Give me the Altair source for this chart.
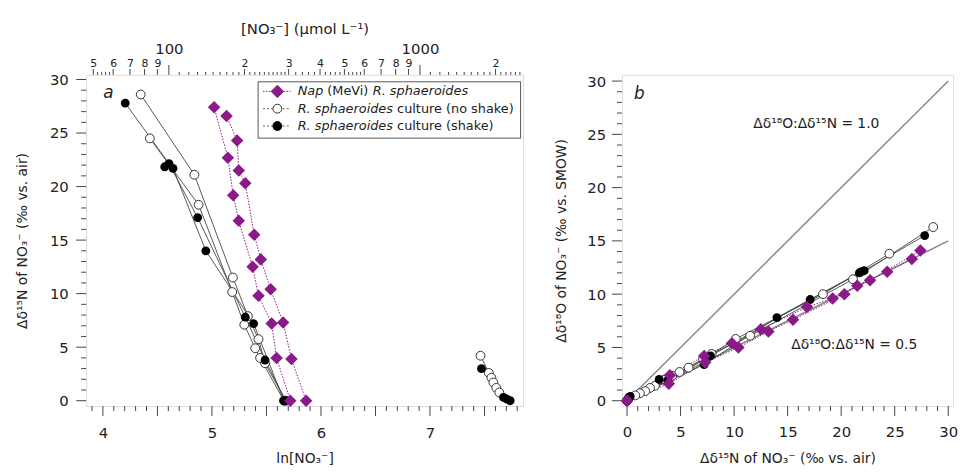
import math
import altair as alt
import pandas as pd

# ---------------- data ----------------
# Nap (MeVi) R. sphaeroides, two runs: ln[NO3-], d15N, d18O
nap1_ln  = [5.020, 5.146, 5.195, 5.246, 5.373, 5.427, 5.548, 5.593, 5.719]
nap1_d15 = [27.4, 22.7, 19.2, 16.8, 12.5, 9.8, 7.2, 4.0, 0.0]
nap1_d18 = [14.1, 11.3, 9.6, 8.8, 6.7, 5.4, 4.2, 2.4, 0.0]
nap2_ln  = [5.134, 5.231, 5.246, 5.306, 5.388, 5.448, 5.538, 5.653, 5.729, 5.864]
nap2_d15 = [26.6, 24.3, 21.5, 20.3, 15.5, 13.2, 10.4, 7.3, 3.9, 0.0]
nap2_d18 = [13.3, 12.1, 10.8, 10.0, 7.6, 6.5, 5.0, 3.6, 1.6, 0.0]
# R. sphaeroides culture (no shake)
ns1_ln  = [4.347, 4.839, 5.192, 5.330, 5.427, 5.487, 5.677]
ns1_d15 = [28.6, 21.1, 11.5, 7.9, 5.75, 3.5, 0.0]
ns1_d18 = [16.3, 11.4, 6.1, 4.4, 3.1, 2.0, 0.0]
ns2_ln  = [4.431, 4.878, 5.186, 5.297, 5.397, 5.442, 5.660]
ns2_d15 = [24.5, 18.3, 10.15, 7.1, 4.9, 4.0, 0.0]
ns2_d18 = [13.8, 10.0, 5.8, 3.9, 2.7, 2.2, 0.0]
ns3_ln  = [7.463, 7.539, 7.563, 7.581, 7.608, 7.635]
ns3_d15 = [4.2, 2.6, 2.15, 1.7, 1.2, 0.77]
ns3_d18 = [2.35, 1.4, 1.2, 0.9, 0.7, 0.5]
# R. sphaeroides culture (shake)
s1_ln  = [4.205, 4.606, 4.869, 5.306, 5.487, 5.677]
s1_d15 = [27.8, 22.15, 17.1, 7.8, 3.8, 0.0]
s1_d18 = [15.5, 12.2, 9.5, 4.2, 1.9, 0.0]
s2_ln  = [4.567, 4.643, 4.944, 5.382, 5.660]
s2_d15 = [21.85, 21.7, 14.0, 7.2, 0.0]
s2_d18 = [12.1, 12.0, 7.8, 3.4, 0.0]
s3_ln  = [7.472, 7.674, 7.705, 7.735]
s3_d15 = [3.0, 0.3, 0.15, 0.0]
s3_d18 = [2.0, 0.4, 0.3, 0.0]

# reference slopes in panel b
ratio_x = [0, 30]
ratio_10_y = [0, 30]
ratio_05_y = [0, 15]

# axis tick positions
a_x_labels = [4, 5, 6, 7]
a_x_major = [4.0, 4.5, 5.0, 5.5, 6.0, 6.5, 7.0, 7.5]
a_x_minor = [3.9, 4.1, 4.2, 4.3, 4.4, 4.6, 4.7, 4.8, 4.9, 5.1, 5.2, 5.3, 5.4,
             5.6, 5.7, 5.8, 5.9, 6.1, 6.2, 6.3, 6.4, 6.6, 6.7, 6.8, 6.9,
             7.1, 7.2, 7.3, 7.4, 7.6, 7.7, 7.8]
iso_major = [0, 5, 10, 15, 20, 25, 30]
iso_minor = [1, 2, 3, 4, 6, 7, 8, 9, 11, 12, 13, 14, 16, 17, 18, 19,
             21, 22, 23, 24, 26, 27, 28, 29]

# top concentration axis (umol/L)
top_labeled = [50, 60, 70, 80, 90, 100, 200, 300, 400, 500, 600, 700, 800, 900, 1000, 2000]
top_labels = ["5", "6", "7", "8", "9", "100", "2", "3", "4", "5", "6", "7", "8", "9", "1000", "2"]
top_major = [100, 1000]
top_mid = [50, 60, 70, 80, 90, 200, 300, 400, 500, 600, 700, 800, 900, 2000]
top_minor = [52, 54, 56, 58,
             110, 120, 130, 140, 150, 160, 170, 180, 190,
             210, 220, 230, 240, 250, 260, 270, 280, 290,
             320, 340, 360, 380, 420, 440, 460, 480, 520, 540, 560, 580,
             1100, 1200, 1300, 1400, 1500, 1600, 1700, 1800, 1900,
             2100, 2200, 2300, 2400, 2500]

legend_rows = [
    [("Nap", "italic", 0), ("(MeVi)", "normal", 30), ("R. sphaeroides", "italic", 76)],
    [("R. sphaeroides", "italic", 0), ("culture (no shake)", "normal", 100.6)],
    [("R. sphaeroides", "italic", 0), ("culture (shake)", "normal", 100.6)],
]

# ---------------- build table ----------------
series = {
    "nap1": ("nap", nap1_ln, nap1_d15, nap1_d18),
    "nap2": ("nap", nap2_ln, nap2_d15, nap2_d18),
    "ns1": ("ns", ns1_ln, ns1_d15, ns1_d18),
    "ns2": ("ns", ns2_ln, ns2_d15, ns2_d18),
    "ns3": ("ns", ns3_ln, ns3_d15, ns3_d18),
    "s1": ("s", s1_ln, s1_d15, s1_d18),
    "s2": ("s", s2_ln, s2_d15, s2_d18),
    "s3": ("s", s3_ln, s3_d15, s3_d18),
}
rows = []
for name, (grp, lns, d15s, d18s) in series.items():
    for i, (a, b, c) in enumerate(zip(lns, d15s, d18s)):
        rows.append(dict(series=name, group=grp, ln=a, d15=b, d18=c, order=i))
df = pd.DataFrame(rows)
ratio_df = pd.DataFrame({"d15": ratio_x * 2, "d18": ratio_10_y + ratio_05_y,
                         "r": ["1.0", "1.0", "0.5", "0.5"]})
one = pd.DataFrame({"k": [0]})

MAG = "#8B1A89"
FONT = "DejaVu Sans"
INK = "#222222"
FRAME = "#555555"
TICKC = "#444444"

A_W, A_H = 442, 335
B_W, B_H = 335, 335


# ---------------- axes ----------------
def lin_axis(values, title, label_pad, title_pad, orient):
    return alt.Axis(
        values=values, orient=orient, domain=False, grid=False, ticks=False, tickSize=0,
        format="d", labelFontSize=15, labelPadding=label_pad, labelOverlap=False,
        labelFlush=False, labelBound=False, labelFont=FONT, labelColor=INK,
        title=title, titleFontSize=14, titlePadding=title_pad, titleFont=FONT,
        titleFontWeight="normal", titleColor=INK,
    )


axis_a_x = lin_axis(a_x_labels, "ln[NO₃⁻]", 19.5, 12, "bottom")
axis_a_y = lin_axis(iso_major, "Δδ¹⁵N of NO₃⁻ (‰ vs. air)", 18, 20, "left")
axis_b_x = lin_axis(iso_major, "Δδ¹⁵N of NO₃⁻ (‰ vs. air)", 19, 12, "bottom")
axis_b_y = lin_axis(iso_major, "Δδ¹⁸O of NO₃⁻ (‰ vs. SMOW)", 16.5, 18, "left")

major_test = " || ".join(f"datum.value == {v}" for v in top_major)
expr = "''"
for v, lab in reversed(list(zip(top_labeled, top_labels))):
    expr = f"datum.value == {v} ? '{lab}' : ({expr})"
axis_top = alt.Axis(
    values=top_labeled, orient="top", domain=False, grid=False, ticks=False, tickSize=0,
    labelExpr=expr, labelOverlap=False, labelFlush=False, labelBound=False,
    labelFont=FONT, labelColor=INK,
    labelFontSize={"condition": {"test": major_test, "value": 15}, "value": 11},
    labelPadding={"condition": {"test": major_test, "value": 19}, "value": 6},
    title="[NO₃⁻] (μmol L⁻¹)", titleFontSize=15, titlePadding=5, titleFont=FONT,
    titleFontWeight="normal", titleColor=INK,
)

A_XS = alt.Scale(domain=[3.846, 7.853], nice=False, zero=False)
A_YS = alt.Scale(domain=[-0.5, 30.43], nice=False, zero=False)
B_XS = alt.Scale(domain=[-0.48, 30.45], nice=False, zero=False)
B_YS = alt.Scale(domain=[-0.5, 30.58], nice=False, zero=False)
TOP_S = alt.Scale(type="log", domain=[math.exp(3.846), math.exp(7.853)], nice=False)

XA = alt.X("ln:Q", scale=A_XS, axis=axis_a_x)
YA = alt.Y("d15:Q", scale=A_YS, axis=axis_a_y)
XB = alt.X("d15:Q", scale=B_XS, axis=axis_b_x)
YB = alt.Y("d18:Q", scale=B_YS, axis=axis_b_y)
XT = alt.X("conc:Q", scale=TOP_S, axis=axis_top)


def xticks(field, values, X, y0, y1):
    return alt.Chart(pd.DataFrame({field: values})).mark_rule(
        color=TICKC, strokeWidth=1, clip=False).encode(x=X, y=alt.value(y0), y2=alt.value(y1))


def yticks(field, values, Y, x0, x1):
    return alt.Chart(pd.DataFrame({field: values})).mark_rule(
        color=TICKC, strokeWidth=1, clip=False).encode(y=Y, x=alt.value(x0), x2=alt.value(x1))


def data_layers(X, Y):
    base = alt.Chart(df)
    nap_l = base.transform_filter(alt.datum.group == "nap").mark_line(
        color=MAG, strokeWidth=1, strokeDash=[1.5, 1.5]).encode(
        x=X, y=Y, detail="series:N", order="order:Q")
    circ_l = base.transform_filter(alt.datum.group != "nap").mark_line(
        color="#444444", strokeWidth=0.9).encode(
        x=X, y=Y, detail="series:N", order="order:Q")
    open_p = base.transform_filter(alt.datum.group == "ns").mark_point(
        shape="circle", filled=True, fill="white", stroke="#333333",
        strokeWidth=1, size=80, opacity=1).encode(x=X, y=Y)
    black_p = base.transform_filter(alt.datum.group == "s").mark_point(
        shape="circle", filled=True, color="black", size=80, opacity=1).encode(x=X, y=Y)
    nap_p = base.transform_filter(alt.datum.group == "nap").mark_point(
        shape="diamond", filled=True, color=MAG, size=160, opacity=1).encode(x=X, y=Y)
    return [nap_l, circ_l, open_p, black_p, nap_p]


def txt(s, x, y, size=14, style="normal", align="center"):
    return alt.Chart(one).mark_text(
        text=s, font=FONT, fontSize=size, fontStyle=style, color=INK,
        align=align, baseline="middle").encode(x=alt.value(x), y=alt.value(y))


# legend (inside panel a, relative to plot frame)
LX0, LX1, LY0, LY1 = 174, 439.5, 7, 64
leg = [alt.Chart(one).mark_rect(fill="white", stroke=FRAME, strokeWidth=1).encode(
    x=alt.value(LX0), x2=alt.value(LX1), y=alt.value(LY0), y2=alt.value(LY1))]
row_y = [16.7, 34.2, 51.7]
sym_styles = [
    dict(line=MAG, dash=[1.5, 1.5], shape="diamond", fill=MAG, stroke=MAG, size=160),
    dict(line="#666666", dash=[2, 2], shape="circle", fill="white", stroke="#333333", size=80),
    dict(line="#666666", dash=[2, 2], shape="circle", fill="black", stroke="black", size=80),
]
for ry, st, segs in zip(row_y, sym_styles, legend_rows):
    leg.append(alt.Chart(one).mark_rule(color=st["line"], strokeWidth=1, strokeDash=st["dash"]).encode(
        x=alt.value(179), x2=alt.value(207), y=alt.value(ry)))
    leg.append(alt.Chart(one).mark_point(shape=st["shape"], filled=True, fill=st["fill"],
                                         stroke=st["stroke"], strokeWidth=1, size=st["size"],
                                         opacity=1).encode(x=alt.value(193.5), y=alt.value(ry)))
    for s, style, off in segs:
        leg.append(txt(s, 214 + off, ry, size=13, style=style, align="left"))

# ---------------- panel a ----------------
a_ticks = [
    xticks("ln", a_x_major, XA, A_H, A_H + 10),
    xticks("ln", a_x_minor, XA, A_H, A_H + 5),
    yticks("d15", iso_major, YA, 0, -10),
    yticks("d15", iso_minor, YA, 0, -5),
]
top_layer = alt.layer(
    xticks("conc", top_major, XT, 0, -10),
    xticks("conc", top_mid, XT, 0, -6),
    xticks("conc", top_minor, XT, 0, -3),
)

panel_a = alt.layer(
    alt.layer(*a_ticks, *data_layers(XA, YA), *leg,
              txt("a", 22.6, 18.3, size=17, style="italic")),
    top_layer,
).resolve_scale(x="independent").properties(width=A_W, height=A_H)

# ---------------- panel b ----------------
ratio_lines = alt.Chart(ratio_df).mark_line(color="#888888", strokeWidth=1.5).encode(
    x=XB, y=YB, detail="r:N")
b_ticks = [
    xticks("d15", iso_major, XB, B_H, B_H + 10),
    xticks("d15", iso_minor, XB, B_H, B_H + 5),
    yticks("d18", iso_major, YB, 0, -10),
    yticks("d18", iso_minor, YB, 0, -5),
]
panel_b = alt.layer(
    *b_ticks, ratio_lines, *data_layers(XB, YB),
    txt("Δδ¹⁸O:Δδ¹⁵N = 1.0", 196.7, 50),
    txt("Δδ¹⁸O:Δδ¹⁵N = 0.5", 235, 273.4),
    txt("b", 17.7, 19, size=17, style="italic"),
).properties(width=B_W, height=B_H)

chart = alt.hconcat(panel_a, panel_b, spacing=100, bounds="flush").properties(
    padding={"left": 7, "top": 10, "right": 0, "bottom": 0}
).configure_view(stroke=FRAME, strokeWidth=1).configure_axis(
    labelFont=FONT, titleFont=FONT, titleFontWeight="normal", labelColor=INK,
    titleColor=INK, domain=False, grid=False,
).configure(background="white")

chart.save("out.html", embed_options={"renderer": "svg", "actions": False})
